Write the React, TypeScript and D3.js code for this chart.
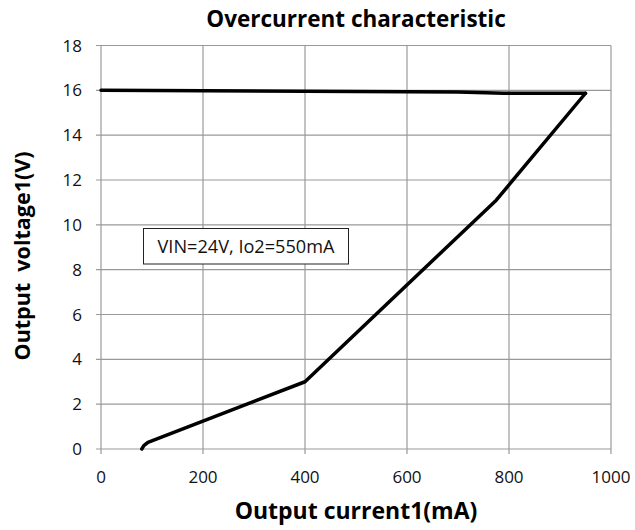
import React, { useRef, useEffect } from 'react';
import * as d3 from 'd3';

const xTicks = [0, 200, 400, 600, 800, 1000];
const yTicks = [0, 2, 4, 6, 8, 10, 12, 14, 16, 18];

// upper branch (current rising, voltage holding)
const upperI = [0, 700, 790, 950];
const upperV = [16, 15.93, 15.87, 15.87];

// foldback branch
const lowerI = [80, 84, 92, 400, 775, 950];
const lowerV = [0, 0.15, 0.3, 3, 11.1, 15.87];

const App = () => {
    const svgRef = useRef(null);

    useEffect(() => {
        const svg = d3.select(svgRef.current);
        svg.selectAll('*').remove();

        const W = 635, H = 530;
        const margin = { top: 45.5, right: 24, bottom: 81, left: 101 };
        const font = '"Open Sans", "Noto Sans", sans-serif';

        const x = d3.scaleLinear().domain([0, 1000]).range([margin.left, W - margin.right]);
        const y = d3.scaleLinear().domain([0, 18]).range([H - margin.bottom, margin.top]);

        svg.append('rect').attr('width', W).attr('height', H).attr('fill', '#fff');

        // grid
        svg.append('g').selectAll('line').data(xTicks).enter().append('line')
            .attr('x1', d => x(d)).attr('x2', d => x(d))
            .attr('y1', y(0) + 5).attr('y2', y(18))
            .attr('stroke', '#999').attr('stroke-width', 1.2);
        svg.append('g').selectAll('line').data(yTicks).enter().append('line')
            .attr('x1', x(0) - 5).attr('x2', x(1000))
            .attr('y1', d => y(d)).attr('y2', d => y(d))
            .attr('stroke', '#999').attr('stroke-width', 1.2);

        // tick labels
        svg.append('g').selectAll('text').data(xTicks).enter().append('text')
            .attr('x', d => x(d)).attr('y', y(0) + 34)
            .attr('text-anchor', 'middle')
            .style('font-family', font).style('font-size', '17px').attr('fill', '#111')
            .text(d => d);
        svg.append('g').selectAll('text').data(yTicks).enter().append('text')
            .attr('x', x(0) - 19).attr('y', d => y(d) + 6)
            .attr('text-anchor', 'end')
            .style('font-family', font).style('font-size', '17px').attr('fill', '#111')
            .text(d => d);

        const draw = (xs: number[], ys: number[]) => {
            const pts = xs.map((v, i) => [x(v), y(ys[i])] as [number, number]);
            svg.append('path')
                .attr('d', d3.line()(pts))
                .attr('fill', 'none').attr('stroke', '#000')
                .attr('stroke-width', 3.5)
                .attr('stroke-linejoin', 'round').attr('stroke-linecap', 'round');
        };
        draw(upperI, upperV);
        draw(lowerI, lowerV);

        // annotation box
        svg.append('rect')
            .attr('x', 143.5).attr('y', 228.5).attr('width', 205).attr('height', 35.5)
            .attr('fill', '#fff').attr('stroke', '#222').attr('stroke-width', 1);
        svg.append('text')
            .attr('x', 246).attr('y', 252.5).attr('text-anchor', 'middle')
            .style('font-family', font).style('font-size', '18px').attr('fill', '#111')
            .attr('textLength', 177).attr('lengthAdjust', 'spacingAndGlyphs')
            .text('VIN=24V, Io2=550mA');

        // title and axis titles
        svg.append('text')
            .attr('x', x(500)).attr('y', 27).attr('text-anchor', 'middle')
            .style('font-family', font).style('font-size', '22.5px').style('font-weight', 'bold')
            .text('Overcurrent characteristic');
        svg.append('text')
            .attr('x', x(500)).attr('y', 519).attr('text-anchor', 'middle')
            .style('font-family', font).style('font-size', '23px').style('font-weight', 'bold')
            .text('Output current1(mA)');
        svg.append('text')
            .attr('transform', `translate(30, 256) rotate(-90)`)
            .attr('text-anchor', 'middle')
            .style('font-family', font).style('font-size', '21.5px').style('font-weight', 'bold')
            .style('white-space', 'pre')
            .text('Output  voltage1(V)');
    }, []);

    return (
        <svg ref={svgRef} width="635" height="530"
            style={{ position: 'absolute', left: 0, top: 0, display: 'block' }} />
    );
};

export default App;
